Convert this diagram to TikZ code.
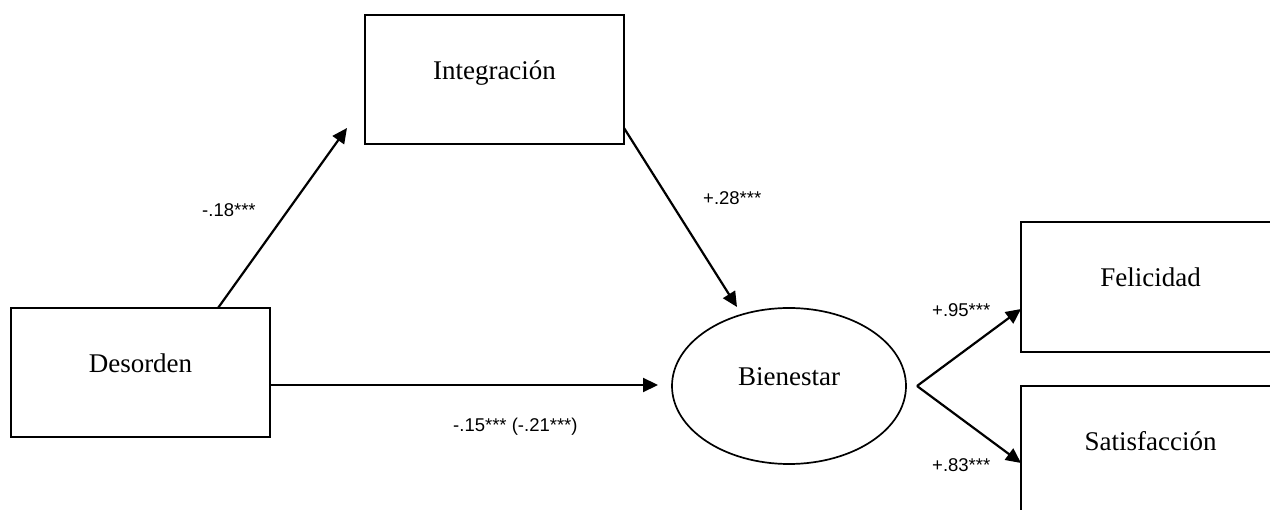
\documentclass[tikz,border=0pt]{standalone}
\usepackage{fontspec}
\setmainfont{Liberation Serif}
\newfontfamily\labelfont{Liberation Sans}
\usetikzlibrary{arrows.meta,shapes.geometric}

\begin{document}
\begin{tikzpicture}[x=1pt,y=-1pt,
  boxnode/.style={draw, line width=1.7pt, rectangle, minimum width=259pt,
    minimum height=129pt, inner sep=0pt, text height=0pt, text depth=0pt,
    font=\fontsize{27}{27}\selectfont},
  latent/.style={draw, line width=1.7pt, ellipse, minimum width=234pt,
    minimum height=156pt, inner sep=0pt, text height=0pt, text depth=0pt,
    font=\fontsize{27}{27}\selectfont},
  path/.style={line width=2.2pt, -{Triangle[length=15pt,width=14pt]}},
  coef/.style={anchor=base west, inner sep=0pt,
    font=\labelfont\fontsize{18.5}{18.5}\selectfont}]
  \useasboundingbox (0,0) rectangle (1270,510);
  \clip (0,0) rectangle (1270,510);

  % constructs
  \node[boxnode] (des) at (140.5,372.5) {Desorden};
  \node[boxnode] (int) at (494.5,79.5) {Integración};
  \node[latent]  (bie) at (789,386) {Bienestar};
  \node[boxnode, minimum height=130pt] (fel) at (1150.5,287) {Felicidad};
  \node[boxnode, minimum height=130pt] (sat) at (1150.5,451) {Satisfacción};

  % end points of the paths
  \coordinate (desTop)  at (218,308);
  \coordinate (intIn)   at (347,128);
  \coordinate (intOut)  at (624,128);
  \coordinate (bieTop)  at (737,307);
  \coordinate (desOut)  at (270,385);
  \coordinate (bieIn)   at (658,385);
  \coordinate (split)   at (917,386);
  \coordinate (felIn)   at (1021,309);
  \coordinate (satIn)   at (1021,463);

  % structural paths
  \draw[path] (desTop) -- (intIn);
  \draw[path] (intOut) -- (bieTop);
  \draw[path] (desOut) -- (bieIn);
  \draw[path] (split) -- (felIn);
  \draw[path] (split) -- (satIn);

  % path coefficients
  \node[coef] (c1) at (202,217) {-.18***};
  \node[coef] (c2) at (703,205) {+.28***};
  \node[coef] (c3) at (453,432) {-.15*** (-.21***)};
  \node[coef] (c4) at (932,317) {+.95***};
  \node[coef] (c5) at (932,472) {+.83***};
\end{tikzpicture}
\end{document}
